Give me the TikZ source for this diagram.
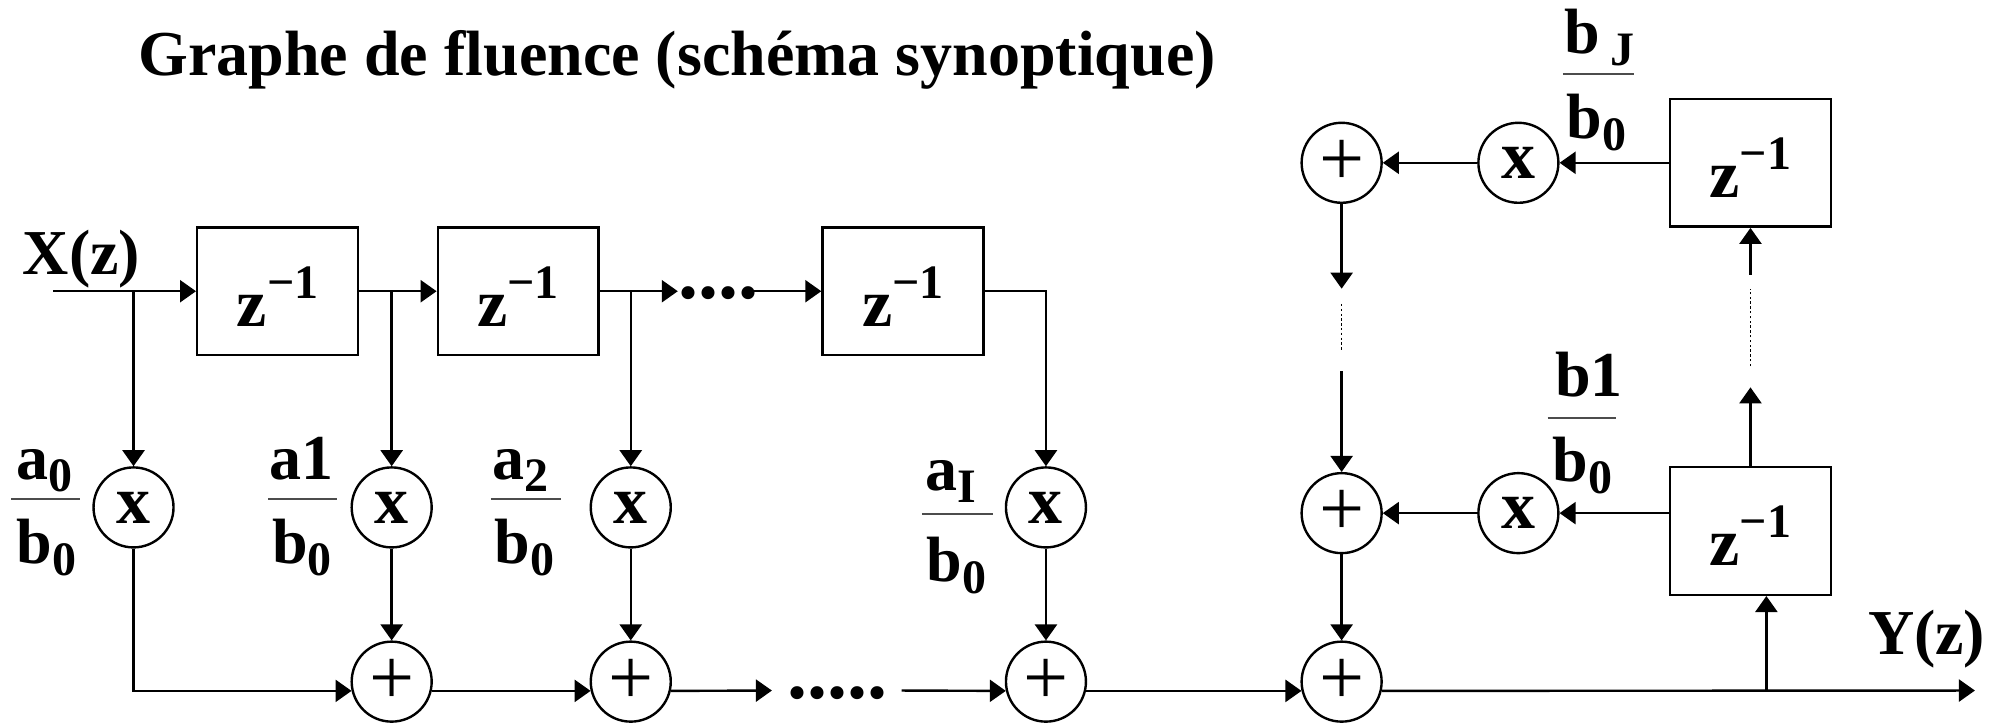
\documentclass[tikz,border=0pt]{standalone}
\usepackage{fontspec}
\setmainfont{Liberation Serif}
\usetikzlibrary{arrows.meta}
\newcommand{\lsub}[1]{\raisebox{-6pt}{\fontsize{24}{24}\selectfont #1}}
\newcommand{\zinv}{{\fontsize{34}{38}\selectfont z}\raisebox{14pt}{\fontsize{24}{24}\selectfont −1}}
\begin{document}
\begin{tikzpicture}[x=0.63585pt, y=-0.63585pt,
  every node/.style={font=\fontsize{32}{38}\selectfont\bfseries},
  line width=1.2pt,
  arr/.style={-{Triangle[length=8pt,width=11pt]}},
  delay/.style={draw, rectangle, minimum width=80.4pt, minimum height=63.9pt, inner sep=0pt, text height=35pt, text depth=0pt},
  mulnode/.style={draw, circle, minimum size=40pt, inner sep=0pt, font=\fontsize{34}{38}\selectfont\bfseries},
  addnode/.style={draw, circle, minimum size=40pt, inner sep=0pt, font=\fontsize{40}{40}\selectfont\mdseries},
  fracbar/.style={line width=1pt, draw=black!70},
  lbl/.style={anchor=base west, inner sep=0pt},
  dotsline/.style={dash pattern=on 1.2pt off 1.2pt, line width=0.8pt},
  dotstext/.style={anchor=base west, inner sep=0pt, font=\fontsize{40}{40}\selectfont\bfseries}
]
\useasboundingbox (0,0) rectangle (1568,569);

% title and signal labels
\node[lbl] (title) at (108,59) {Graphe de fluence (schéma synoptique)};
\node[lbl] (xz) at (17,215.5) {X(z)};
\node[lbl] (yz) at (1468,515) {Y(z)};

% delay boxes
\node[delay] (b1) at (218.3,229) {\zinv};
\node[delay] (b2) at (407.5,229) {\zinv};
\node[delay] (b3) at (710,229) {\zinv};
\node[delay] (rb2) at (1376.5,128) {\zinv};
\node[delay] (rb1) at (1376.5,417.5) {\zinv};

% multipliers
\node[mulnode] (m0) at (105,399) {x};
\node[mulnode] (m1) at (308,399) {x};
\node[mulnode] (m2) at (496,399) {x};
\node[mulnode] (m3) at (822.5,399) {x};
\node[mulnode] (rm1) at (1194,403.5) {x};
\node[mulnode] (rm2) at (1194,128) {x};

% adders
\node[addnode] (s1) at (308,536) {+};
\node[addnode] (s2) at (496,536) {+};
\node[addnode] (s3) at (822.5,536) {+};
\node[addnode] (r0) at (1055,536) {+};
\node[addnode] (r1) at (1055,403.5) {+};
\node[addnode] (r2) at (1055,128) {+};

% dots
\node[dotstext] (dA) at (532.6,235) {....};
\node[dotstext] (dB) at (618.6,549) {.....};

% coordinates
\coordinate (in) at (42,229);
\coordinate (tA) at (533,229);
\coordinate (tB) at (593,229);
\coordinate (bA) at (607,543);
\coordinate (bB) at (709,543);
\coordinate (out) at (1553,543);
\coordinate (fb) at (1389,543);
\coordinate (lA) at (1055,227);
\coordinate (lB) at (1055,239);
\coordinate (lC) at (1055,276);
\coordinate (lD) at (1055,292);
\coordinate (kA) at (1376.5,304.6);
\coordinate (kB) at (1376.5,288);
\coordinate (kC) at (1376.5,227);
\coordinate (kD) at (1376.5,216);

% forward path
\draw[arr] (in) -- (b1);
\draw[arr] (b1) -- (b2);
\draw[arr] (b2) -- (tA);
\draw[arr] (tB) -- (b3);
\draw[arr] (m0 |- in) -- (m0);
\draw[arr] (m1 |- b1.east) -- (m1);
\draw[arr] (m2 |- b2.east) -- (m2);
\draw[arr] (b3.east) -| (m3);
\draw[arr] (m1) -- (s1);
\draw[arr] (m2) -- (s2);
\draw[arr] (m3) -- (s3);
\draw[arr] (m0) |- (s1.193);
\draw[arr] (s1.347) -- (s2.193);
\draw[arr] (s2.347) -- (bA);
\draw[arr] (bB) -- (s3.193);
\draw[arr] (s3.347) -- (r0.193);
\draw[arr] (r0.347) -- (out);

% feedback path
\draw[arr] (fb) -- (fb |- rb1.south);
\draw[arr] (rb1.west |- rm1) -- (rm1);
\draw[arr] (rm1) -- (r1);
\draw[arr] (r1) -- (r0);
\draw[arr] (rb2) -- (rm2);
\draw[arr] (rm2) -- (r2);
\draw[arr] (r2) -- (lA);
\draw[dotsline] (lB) -- (lC);
\draw[arr] (lD) -- (r1);
\draw[arr] (rb1) -- (kA);
\draw[dotsline] (kB) -- (kC);
\draw[arr] (kD) -- (rb2);

% coefficient labels
\node[lbl] (na0) at (12,377) {a\lsub{0}};
\draw[fracbar] (9,392) -- (63,392);
\node[lbl] (da0) at (12,443) {b\lsub{0}};

\node[lbl] (na1) at (211,377) {a1};
\draw[fracbar] (211,392) -- (265,392);
\node[lbl] (da1) at (213,443) {b\lsub{0}};

\node[lbl] (na2) at (386,377) {a\lsub{2}};
\draw[fracbar] (386,392) -- (441,392);
\node[lbl] (da2) at (388,443) {b\lsub{0}};

\node[lbl] (naI) at (727,386) {a\lsub{I}};
\draw[fracbar] (725,404) -- (781,404);
\node[lbl] (daI) at (728,457.5) {b\lsub{0}};

\node[lbl] (nbJ) at (1229,42) {b\,\lsub{J}};
\draw[fracbar] (1229,58) -- (1285,58);
\node[lbl] (dbJ) at (1231,108.7) {b\lsub{0}};

\node[lbl] (nb1) at (1222,312) {b1};
\draw[fracbar] (1217,329) -- (1271,329);
\node[lbl] (db1) at (1220,379) {b\lsub{0}};
\end{tikzpicture}
\end{document}
